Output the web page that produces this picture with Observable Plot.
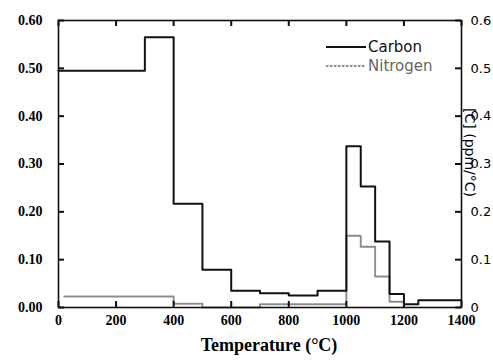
<!DOCTYPE html>
<html>
<head>
<meta charset="utf-8">
<script src="https://cdn.jsdelivr.net/npm/d3@7"></script>
<script src="https://cdn.jsdelivr.net/npm/@observablehq/plot@0.6"></script>
<style>
  html, body { margin: 0; padding: 0; background: #fff; }
  #chart { width: 493px; height: 360px; }
</style>
</head>
<body>
<div id="chart"></div>
<script>
// Step edges (°C) and evolution rates
const carbonTemps = [0, 300, 400, 500, 600, 700, 800, 900, 1000, 1050, 1100, 1150, 1200, 1250, 1400];
const carbonValues = [0.495, 0.565, 0.217, 0.079, 0.035, 0.030, 0.025, 0.035, 0.337, 0.253, 0.138, 0.028, 0.007, 0.015, 0.015];
const nitrogenTemps = [20, 400, 500, 700, 1000, 1050, 1100, 1150, 1200];
const nitrogenValues = [0.023, 0.008, 0.0, 0.007, 0.150, 0.127, 0.065, 0.012, 0.0];

const xTicks = [0, 200, 400, 600, 800, 1000, 1200, 1400];
const yTicks = [0, 0.1, 0.2, 0.3, 0.4, 0.5, 0.6];
const xLabel = "Temperature (°C)";
const yRightLabel = "[C] (ppm/°C)";
const seriesNames = ["Carbon", "Nitrogen"];

const carbon = carbonTemps.map((t, i) => ({t, v: carbonValues[i]}));
const nitrogen = nitrogenTemps.map((t, i) => ({t, v: nitrogenValues[i]}));

const serif = "'Liberation Serif', 'DejaVu Serif', serif";
const sans = "'DejaVu Sans', 'Liberation Sans', sans-serif";

const W = 493, H = 360, mL = 58, mR = 32, mT = 20, mB = 53;
const pw = W - mL - mR, ph = H - mT - mB;
const tk = 6;
const tickStyle = {stroke: "#111", strokeWidth: 2};

const plot = Plot.plot({
  width: W,
  height: H,
  marginLeft: mL,
  marginRight: mR,
  marginTop: mT,
  marginBottom: mB,
  x: {domain: [0, 1400]},
  y: {domain: [0, 0.6]},
  style: {background: "white", color: "black"},
  marks: [
    Plot.line(nitrogen, {x: "t", y: "v", curve: "step-after", stroke: "#8a8a8a", strokeWidth: 2, strokeDasharray: "2.5,1.5"}),
    Plot.line(carbon, {x: "t", y: "v", curve: "step-after", stroke: "#111", strokeWidth: 2}),
    Plot.frame({stroke: "#111", strokeWidth: 1.6}),
    // inward tick marks
    Plot.tickY(yTicks, {y: d => d, insetRight: pw - tk, ...tickStyle}),
    Plot.tickY(yTicks, {y: d => d, insetLeft: pw - tk, ...tickStyle}),
    Plot.tickX(xTicks, {x: d => d, insetTop: ph - tk, ...tickStyle}),
    Plot.tickX(xTicks, {x: d => d, insetBottom: ph - tk, ...tickStyle}),
    // tick labels
    Plot.axisY({anchor: "left", ticks: yTicks, tickFormat: d => d.toFixed(2), tickSize: 0, tickPadding: 16, label: null,
      fontFamily: serif, fontSize: 14, fontWeight: "bold"}),
    Plot.axisY({anchor: "right", ticks: yTicks, tickFormat: d => d === 0 ? "0" : d.toFixed(1), tickSize: 0, tickPadding: 9, label: null,
      fontFamily: sans, fontSize: 13}),
    Plot.axisX({anchor: "bottom", ticks: xTicks, tickFormat: d => String(d), tickSize: 0, tickPadding: 8, label: null,
      fontFamily: serif, fontSize: 14, fontWeight: "bold"}),
    Plot.text([xLabel], {text: d => d, frameAnchor: "bottom", dx: 9, dy: 43, fontFamily: serif, fontSize: 18, fontWeight: "bold"}),
    Plot.text([yRightLabel], {text: d => d, frameAnchor: "right", dx: 8, dy: 33, rotate: 90, fontFamily: sans, fontSize: 14})
  ]
});

document.getElementById("chart").appendChild(plot);

// Legend (inside the frame, top right)
const svg = d3.select(plot);
const leg = svg.append("g").attr("transform", "translate(326,47)");
const styles = [
  {stroke: "#111", dash: null, color: "#111"},
  {stroke: "#8a8a8a", dash: "2.5,1.5", color: "#666"}
];
seriesNames.forEach((name, i) => {
  const g = leg.append("g").attr("transform", `translate(0,${i * 19})`);
  g.append("line").attr("x1", 0).attr("x2", 40).attr("y1", 0).attr("y2", 0)
    .attr("stroke", styles[i].stroke).attr("stroke-width", 2)
    .attr("stroke-dasharray", styles[i].dash);
  g.append("text").attr("x", 42).attr("y", 0).attr("dy", "0.35em")
    .attr("text-anchor", "start")
    .attr("font-family", sans).attr("font-size", 15).attr("fill", styles[i].color)
    .text(name);
});
</script>
</body>
</html>
